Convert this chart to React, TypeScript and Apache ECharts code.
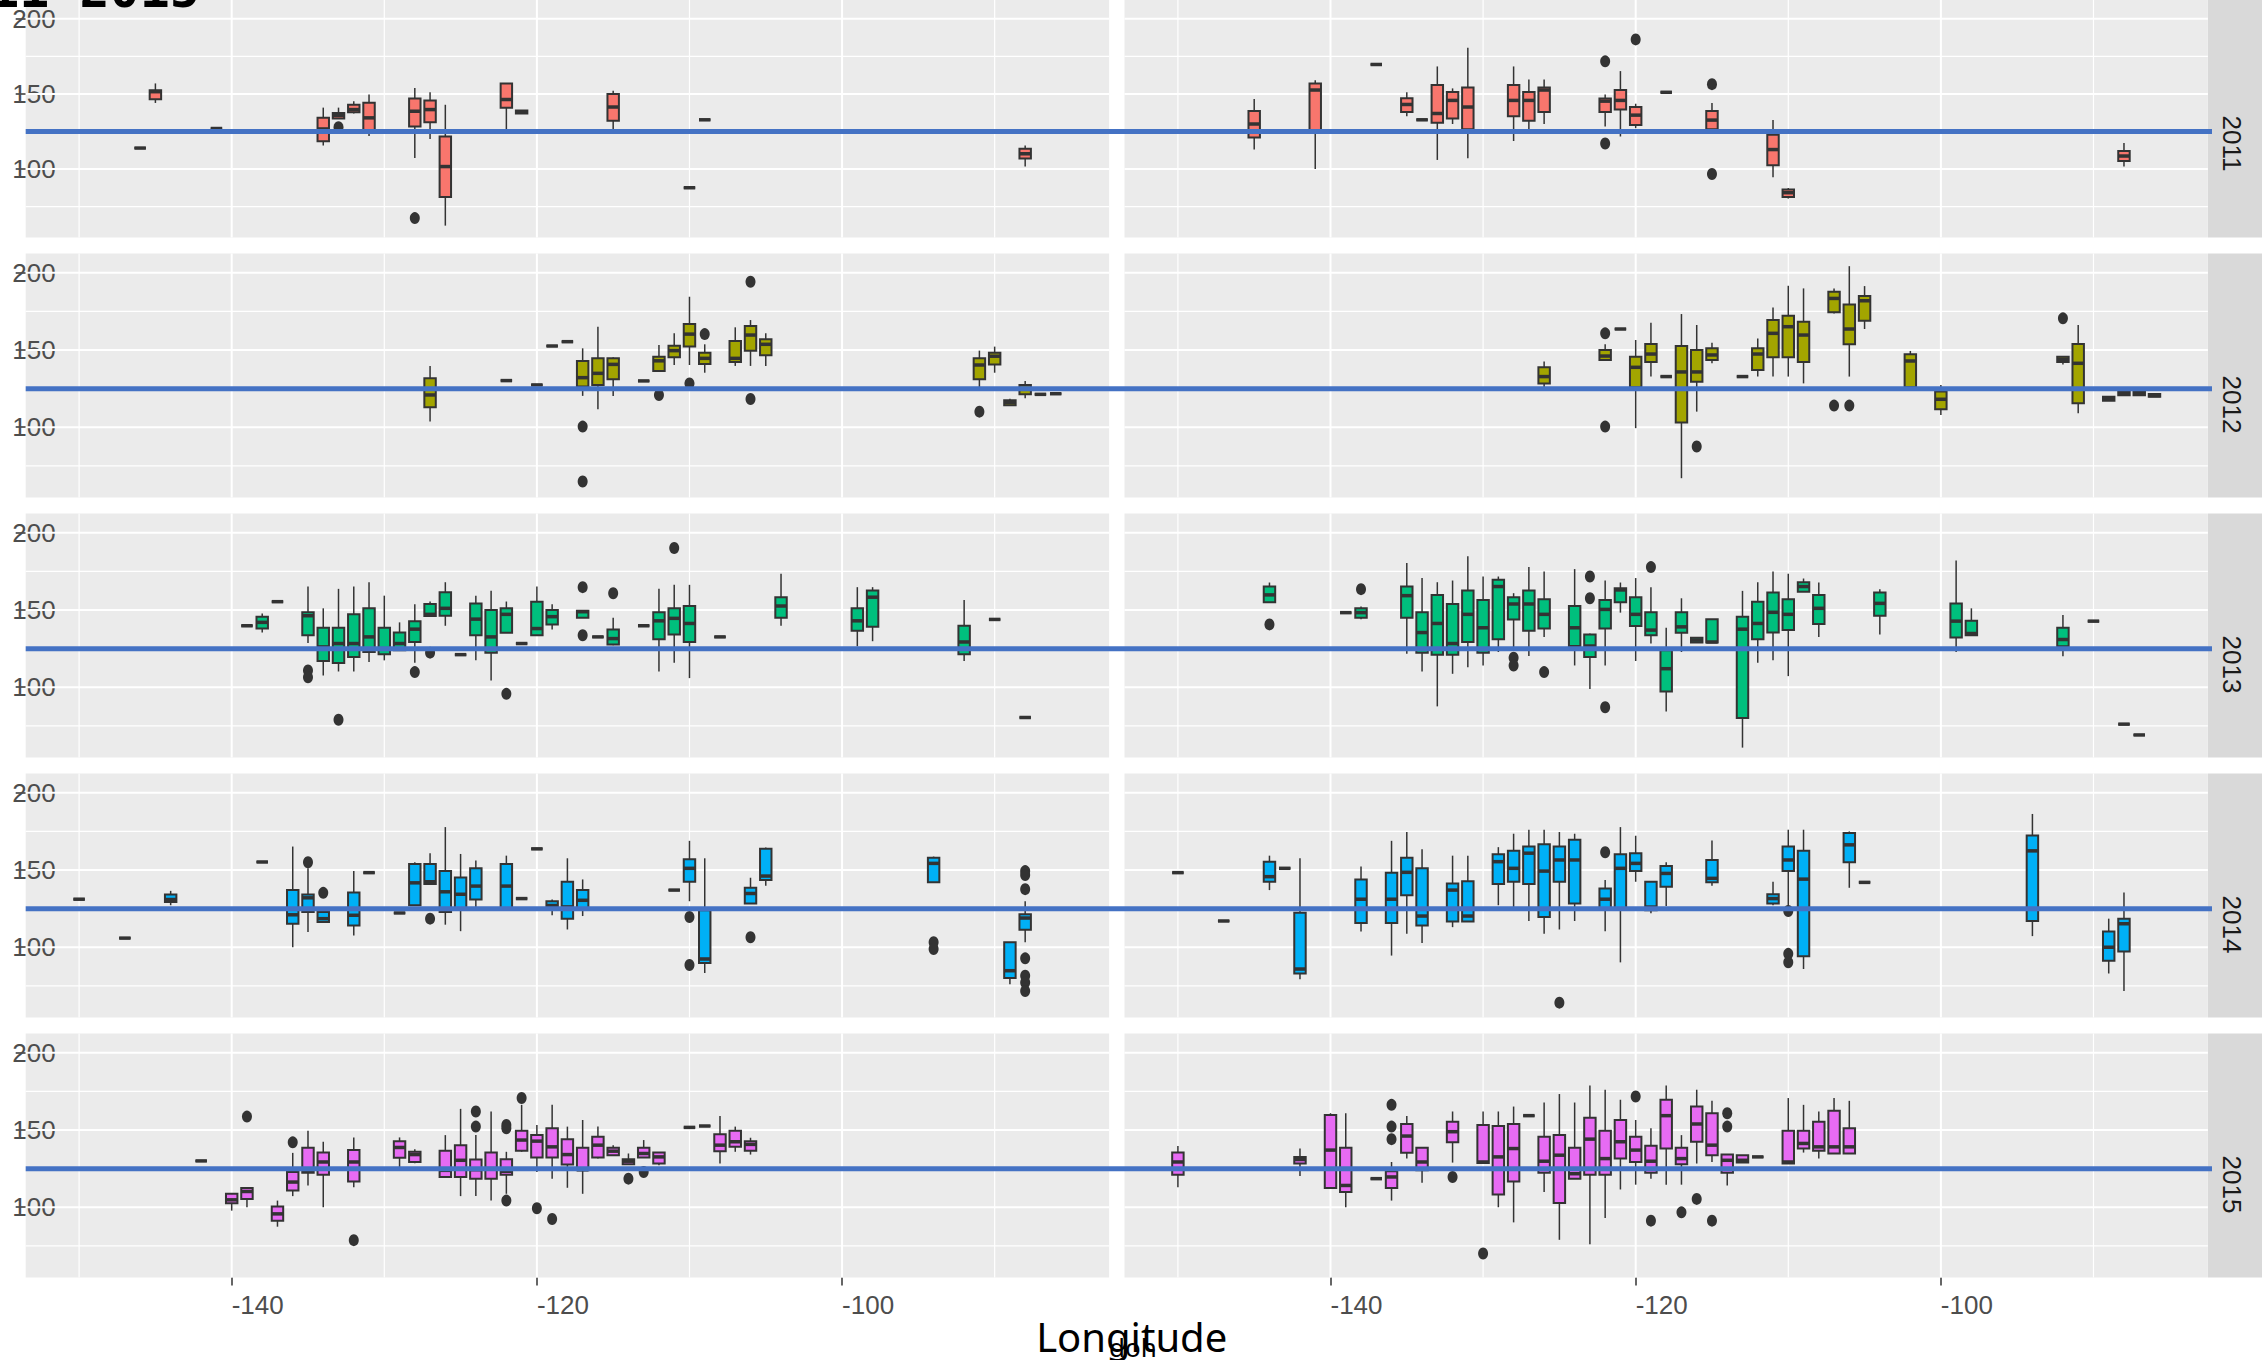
import React, { useEffect, useRef } from "react";
import * as echarts from "echarts";

// ---------- scales, ticks, labels ----------
const YEARS = ["2011", "2012", "2013", "2014", "2015"];
const FILLS = ["#F8766D", "#A3A500", "#00BF7D", "#00B0F6", "#E76BF3"];
const X_MIN = -153.5;
const X_MAX = -82.5;
const Y_MIN = 54.5;
const Y_MAX = 212.5;
const X_TICKS = [-140, -120, -100];
const X_MINOR = [-150, -130, -110, -90];
const Y_TICKS = [100, 150, 200];
const Y_MINOR = [75, 125, 175];
const REF_VALUE = 125;
const TITLE = "2011-2015";
const X_TITLE = "Longitude";
const X_SUBTITLE = "doh";

// ---------- box data: [lon, lowerWhisker, q1, median, q3, upperWhisker] ----------
const BOX_2011_L = [
  [-146, 114, 114, 114, 114, 114],
  [-145, 144, 146.5, 151.5, 152.5, 157],
  [-141, 127, 127, 127, 127, 127],
  [-134, 115.7, 118.5, 126.7, 134.1, 140.9],
  [-133, 133.7, 133.7, 135.7, 137.4, 140.9],
  [-132, 137, 137.8, 139.6, 142.8, 145.2],
  [-131, 122, 124, 134.1, 144.1, 149.6],
  [-128, 107.4, 128.3, 138.5, 147, 153.9],
  [-127, 120, 131.1, 139.6, 145.7, 151.1],
  [-126, 62.4, 81.5, 101.7, 121.7, 142.8],
  [-122, 125.4, 140.9, 146.3, 157, 157],
  [-121, 137, 137, 138, 139, 139],
  [-115, 126, 132.2, 141.3, 150, 152.2],
  [-110, 87.6, 87.6, 87.6, 87.6, 87.6],
  [-109, 132.8, 132.8, 132.8, 132.8, 132.8],
  [-88, 101.7, 107, 110.2, 113.5, 115.7],
];
const OUT_2011_L = [[-133, 127.8], [-128, 67.4]];

const BOX_2011_R = [
  [-145, 113, 121.1, 130, 138.7, 146.7],
  [-141, 100, 126, 152.6, 157, 159.1],
  [-137, 169.6, 169.6, 169.6, 169.6, 169.6],
  [-135, 135.2, 138, 143, 147.2, 151.1],
  [-134, 132.8, 132.8, 132.8, 132.8, 132.8],
  [-133, 106.1, 130.9, 137, 155.9, 168.3],
  [-132, 130, 133.7, 145.7, 151.3, 153.7],
  [-131, 107.2, 126.5, 141.3, 154.3, 180.7],
  [-128, 118.7, 135.2, 145.7, 155.9, 168.3],
  [-127, 125.7, 132.2, 145.7, 151.3, 159.6],
  [-126, 130, 138, 152.6, 154.3, 159.6],
  [-122, 128.3, 138, 145.2, 147, 149.6],
  [-121, 121.7, 139.6, 145.7, 152.6, 165.2],
  [-120, 127.2, 129.3, 135.9, 141.3, 143.5],
  [-118, 151.1, 151.1, 151.1, 151.1, 151.1],
  [-115, 125.7, 126.5, 132.6, 138.7, 143.9],
  [-111, 94.6, 102.6, 113, 122.8, 132.6],
  [-110, 80.4, 81.5, 84.3, 86.5, 87.4],
  [-88, 101.7, 105.4, 108.7, 112, 117.4],
];
const OUT_2011_R = [[-122, 171.7], [-122, 117], [-120, 186.3], [-115, 156.5], [-115, 96.7]];

const BOX_2012_L = [
  [-127, 103.7, 112.9, 120.9, 131.7, 139.7],
  [-122, 130.2, 130.2, 130.2, 130.2, 130.2],
  [-120, 127.4, 127.4, 127.4, 127.4, 127.4],
  [-119, 152.6, 152.6, 152.6, 152.6, 152.6],
  [-118, 155.4, 155.4, 155.4, 155.4, 155.4],
  [-117, 120.3, 126.3, 132.1, 142.9, 151.1],
  [-116, 111.6, 127.4, 134.9, 144.6, 165.1],
  [-115, 120.3, 131, 140.7, 144.6, 145.3],
  [-113, 130, 130, 130, 130, 130],
  [-112, 136, 136.4, 143, 145.7, 153.2],
  [-111, 140.3, 145.3, 149.6, 152.8, 160.8],
  [-110, 140.3, 152.2, 160.3, 166.8, 184.5],
  [-109, 135.3, 141, 144.6, 148.3, 153.7],
  [-107, 139.7, 142.2, 144.6, 155.8, 164.7],
  [-106, 139.7, 149.6, 159.7, 165.5, 169.4],
  [-105, 139.7, 146.6, 153.7, 156.9, 160.8],
  [-91, 125.2, 131, 140.3, 144.6, 149.6],
  [-90, 135.3, 140.7, 146, 148.3, 152.2],
  [-89, 113.8, 114.2, 116, 117.5, 118.4],
  [-88, 118.7, 121.3, 125.2, 127.4, 130],
  [-87, 121.3, 121.3, 121.3, 121.3, 121.3],
  [-86, 121.7, 121.7, 121.7, 121.7, 121.7],
];
const OUT_2012_L = [
  [-117, 100.4], [-117, 64.9], [-112, 120.9], [-110, 128.4],
  [-109, 160.3], [-106, 194.2], [-106, 118.3], [-91, 110.1],
];

const BOX_2012_R = [
  [-126, 125.2, 128.4, 132.8, 138.8, 142.5],
  [-122, 143.5, 143.5, 146.1, 150, 153.7],
  [-121, 163.6, 163.6, 163.6, 163.6, 163.6],
  [-120, 99.4, 125.9, 138.8, 145.7, 156.5],
  [-119, 132.8, 142.2, 147.4, 153.9, 167.7],
  [-118, 132.8, 132.8, 132.8, 132.8, 132.8],
  [-117, 67, 103, 135.8, 152.6, 173.3],
  [-116, 110.1, 129.5, 135.8, 150, 166.2],
  [-115, 141.4, 143.5, 146.8, 151.1, 154.7],
  [-113, 132.8, 132.8, 132.8, 132.8, 132.8],
  [-112, 132.8, 137.1, 147.4, 151.1, 157.5],
  [-111, 132.8, 145.3, 160.8, 169.4, 177.6],
  [-110, 132.8, 145.3, 165.1, 172.2, 191.6],
  [-109, 128.4, 142.2, 159.7, 168.3, 189.9],
  [-107, 173.7, 174.4, 183.4, 187.7, 189.9],
  [-106, 132.8, 153.7, 163.6, 179.5, 204.3],
  [-105, 163.6, 169, 181.9, 184.9, 191.4],
  [-102, 125.2, 125.9, 142.9, 147.2, 149.4],
  [-100, 108, 111.6, 118.1, 123.1, 127.4],
  [-92, 140.7, 142.2, 144, 145.7, 146.1],
  [-91, 109, 115.5, 141.4, 153.9, 166.2],
  [-89, 117.2, 117.2, 118.5, 119.8, 119.8],
  [-88, 120.7, 120.7, 122, 123.1, 123.1],
  [-87, 120.7, 120.7, 122, 123.1, 123.1],
  [-86, 119.8, 119.8, 120.5, 121.5, 121.5],
];
const OUT_2012_R = [[-122, 160.8], [-122, 100.4], [-116, 87.5], [-107, 114], [-106, 114], [-92, 170.5]];

const BOX_2013_L = [
  [-139, 139.8, 139.8, 139.8, 139.8, 139.8],
  [-138, 135.4, 138, 142, 145.7, 147.8],
  [-137, 155.4, 155.4, 155.4, 155.4, 155.4],
  [-135, 128.7, 133.7, 146.3, 148.5, 165.2],
  [-134, 107.6, 117, 126.1, 138.5, 151.1],
  [-133, 110.2, 115.7, 128.3, 138.5, 163.7],
  [-132, 110.2, 119.6, 128.3, 147.2, 165.2],
  [-131, 116.3, 122.8, 132.6, 151.1, 168],
  [-130, 117.4, 121.3, 125, 138.5, 159.3],
  [-129, 123.9, 123.9, 128.3, 135.4, 142],
  [-128, 115.9, 129.3, 137.6, 142.8, 153.7],
  [-127, 145.7, 146.1, 147.2, 153.9, 155.5],
  [-126, 139.8, 146.3, 151.1, 161.5, 168],
  [-125, 121.1, 121.1, 121.1, 121.1, 121.1],
  [-124, 117.4, 133.7, 144.1, 154.3, 159.3],
  [-123, 104.3, 122.4, 132.6, 150, 162.4],
  [-122, 135.2, 135.2, 147.2, 151.1, 155.5],
  [-121, 128.3, 128.3, 128.3, 128.3, 128.3],
  [-120, 133.7, 133.7, 138, 155.4, 165.2],
  [-119, 137.4, 140.7, 145.7, 150, 153.7],
  [-117, 145, 145, 148.9, 149.6, 149.6],
  [-116, 132.6, 132.6, 132.6, 132.6, 132.6],
  [-115, 127.2, 127.6, 131.5, 137.4, 145],
  [-113, 139.8, 139.8, 139.8, 139.8, 139.8],
  [-112, 110.2, 131.1, 143, 148.5, 163.7],
  [-111, 115.9, 134.1, 144.6, 151.1, 166.3],
  [-110, 105.9, 129.3, 141.3, 152.6, 166.3],
  [-108, 132.6, 132.6, 132.6, 132.6, 132.6],
  [-104, 139.8, 145, 152.6, 158.3, 173.5],
  [-99, 126.5, 136.5, 143, 151.1, 164.8],
  [-98, 129.8, 139.1, 158.3, 162.6, 164.8],
  [-92, 117, 121.3, 129.3, 139.8, 156.5],
  [-90, 143.9, 143.9, 143.9, 143.9, 143.9],
  [-88, 80.4, 80.4, 80.4, 80.4, 80.4],
];
const OUT_2013_L = [
  [-135, 110.9], [-135, 106.5], [-133, 78.9], [-128, 109.8], [-127, 122.4],
  [-122, 95.7], [-117, 164.8], [-117, 133.7], [-115, 160.9], [-111, 190.2],
];

const BOX_2013_R = [
  [-144, 155, 155, 159.8, 165.2, 167.8],
  [-139, 148.3, 148.3, 148.3, 148.3, 148.3],
  [-138, 144, 145, 148.3, 151.1, 152.2],
  [-135, 121.7, 145, 159.3, 165.2, 180.4],
  [-134, 110.2, 122.4, 135.4, 148.5, 170.7],
  [-133, 87.6, 121.1, 141.3, 159.8, 168],
  [-132, 108.7, 121.1, 128.3, 153.9, 169.1],
  [-131, 113, 129.3, 147.2, 162.6, 184.8],
  [-130, 114.1, 122.4, 138.5, 156.5, 171.7],
  [-129, 122.8, 131.1, 165.2, 169.6, 171.7],
  [-128, 125, 143.9, 153.9, 158.3, 160.9],
  [-127, 120.2, 136.5, 153.9, 162.6, 177.8],
  [-126, 132.6, 138, 147.2, 157, 175],
  [-124, 114.1, 126.7, 138.5, 152.6, 176.5],
  [-123, 98.9, 119.6, 126.7, 134.1, 134.8],
  [-122, 114.1, 138, 150.4, 156.5, 169.1],
  [-121, 148.3, 155, 163, 164.1, 167.8],
  [-120, 117, 139.6, 147.2, 158.3, 170.7],
  [-119, 128.3, 133.7, 137, 148.5, 164.8],
  [-118, 84.3, 97.2, 112, 123.9, 138.5],
  [-117, 122.8, 135.2, 139.1, 148.5, 157.6],
  [-116, 129, 129, 130.5, 132, 132],
  [-115, 128.9, 128.9, 129.3, 144.1, 144.1],
  [-113, 60.9, 80, 137.6, 145.7, 162.4],
  [-112, 115.9, 131.1, 141.3, 155.4, 168],
  [-111, 117.4, 135.4, 148.5, 161.3, 175],
  [-110, 107.2, 137, 147.2, 157, 173.5],
  [-109, 161.9, 161.9, 165.2, 168, 170.4],
  [-108, 132.6, 140.9, 151.1, 159.8, 167.8],
  [-104, 134.1, 146.3, 154.3, 161.3, 163.5],
  [-99, 122.8, 132.2, 142.8, 154.3, 182],
  [-98, 133.7, 133.7, 134.8, 143, 151.1],
  [-92, 120, 126.5, 130.9, 138.5, 146.7],
  [-90, 142.8, 142.8, 142.8, 142.8, 142.8],
  [-88, 76.1, 76.1, 76.1, 76.1, 76.1],
  [-87, 69.1, 69.1, 69.1, 69.1, 69.1],
];
const OUT_2013_R = [
  [-144, 140.7], [-138, 163.5], [-128, 119.1], [-128, 114.1], [-126, 109.8],
  [-123, 171.7], [-123, 157.6], [-122, 87], [-119, 177.8],
];

const BOX_2014_L = [
  [-150, 131.1, 131.1, 131.1, 131.1, 131.1],
  [-147, 105.9, 105.9, 105.9, 105.9, 105.9],
  [-144, 127.2, 129.3, 130.9, 134.1, 136.5],
  [-138, 155.2, 155.2, 155.2, 155.2, 155.2],
  [-136, 100, 115.2, 121, 137, 165.2],
  [-135, 109.8, 122.8, 132, 134.1, 151.1],
  [-134, 116.3, 116.3, 118.5, 122.8, 125],
  [-132, 107.6, 114.1, 120.7, 135.4, 149.3],
  [-131, 148.3, 148.3, 148.3, 148.3, 148.3],
  [-129, 122.2, 122.2, 122.2, 122.2, 122.2],
  [-128, 127.2, 127.2, 141.7, 153.9, 155],
  [-127, 140.9, 140.9, 142.4, 153.9, 160.9],
  [-126, 114.6, 122.8, 135.9, 149.3, 177.8],
  [-125, 110.4, 125, 134.3, 145.2, 160.4],
  [-124, 124.6, 130.9, 139.6, 151.1, 156.1],
  [-122, 125, 125, 139.6, 153.9, 159.3],
  [-121, 131.5, 131.5, 131.5, 131.5, 131.5],
  [-120, 163.7, 163.7, 163.7, 163.7, 163.7],
  [-119, 120.7, 126.1, 127, 129.8, 130.9],
  [-118, 111.5, 118.5, 126.1, 142.4, 157.6],
  [-117, 120.2, 125, 130.4, 137, 143.9],
  [-111, 137, 137, 137, 137, 137],
  [-110, 129.8, 142.4, 151.1, 157, 168.9],
  [-109, 83.3, 89.8, 92.4, 124, 157.6],
  [-106, 128.3, 128.3, 134.8, 138.5, 145],
  [-105, 139.8, 143.5, 146.1, 163.7, 164.6],
  [-94, 142, 142, 154.3, 158, 158.7],
  [-89, 76.1, 80, 84.8, 103.3, 103.3],
  [-88, 103.3, 111.3, 118.9, 121.3, 129.8],
];
const OUT_2014_L = [
  [-135, 155], [-134, 135.2], [-127, 118.5], [-110, 119.6], [-110, 88.5],
  [-106, 106.5], [-94, 103.3], [-94, 98.9], [-88, 149.3], [-88, 146.7],
  [-88, 137.6], [-88, 92.8], [-88, 81.5], [-88, 77.2], [-88, 71.7],
];

const BOX_2014_R = [
  [-150, 148.3, 148.3, 148.3, 148.3, 148.3],
  [-147, 117, 117, 117, 117, 117],
  [-144, 137, 142.4, 145.7, 155.4, 159.3],
  [-143, 151.1, 151.1, 151.1, 151.1, 151.1],
  [-142, 79.3, 83, 85.9, 122.4, 157.6],
  [-138, 110.2, 115.7, 131.1, 143.9, 152.2],
  [-136, 94.6, 115.7, 131.1, 148.3, 168.9],
  [-135, 108.7, 133.7, 148.5, 158, 174.6],
  [-134, 102.8, 114.1, 120.2, 151.1, 163.5],
  [-132, 113, 116.7, 137, 141.3, 159.3],
  [-131, 116.3, 116.7, 120.2, 142.8, 159.3],
  [-129, 127.2, 140.9, 155.4, 160.2, 164.8],
  [-128, 126.1, 142.4, 151.1, 162.4, 173.5],
  [-127, 117, 140.9, 160.9, 165.2, 176.1],
  [-126, 108.7, 119.6, 149.3, 166.7, 176.1],
  [-125, 111.5, 142.4, 156.5, 165.2, 174.6],
  [-124, 117, 128.3, 156.5, 169.6, 173.5],
  [-122, 110.4, 125, 131.1, 138, 143.5],
  [-121, 90.2, 125, 151.1, 160.2, 177.8],
  [-120, 142.4, 149.3, 154.3, 160.9, 172.2],
  [-119, 122, 124, 126, 142.4, 142.4],
  [-118, 126.7, 139.1, 147.8, 152.6, 155],
  [-115, 139.8, 142, 144.6, 156.5, 169.1],
  [-111, 127.2, 128.3, 131.5, 134.3, 142.4],
  [-110, 123.9, 149.3, 156.5, 165.2, 176.1],
  [-109, 85.9, 94.1, 144.1, 162.4, 176.1],
  [-106, 138.5, 155, 166.3, 173.9, 175],
  [-105, 142, 142, 142, 142, 142],
  [-94, 107.2, 117, 162.4, 172.4, 186.3],
  [-89, 83, 91.3, 100, 110.2, 118.5],
  [-88, 71.7, 97.2, 115.2, 118.5, 135.4],
];
const OUT_2014_R = [[-125, 64.1], [-122, 161.5], [-110, 123.5], [-110, 95.7], [-110, 90.2]];

const BOX_2015_L = [
  [-142, 130, 130, 130, 130, 130],
  [-140, 97.8, 102.6, 104.8, 108.7, 108.7],
  [-139, 100, 105.4, 110.2, 112.4, 112.4],
  [-137, 87.4, 91.3, 95.7, 100.4, 104.3],
  [-136, 107.2, 110.9, 116.3, 122.8, 135.2],
  [-135, 114.1, 122.4, 123.3, 138.5, 149.6],
  [-134, 100, 121.1, 129.3, 135.4, 142.4],
  [-132, 113, 116.7, 129.3, 137, 145.2],
  [-129, 124.6, 132, 138.7, 142.8, 145.2],
  [-128, 128.5, 129.3, 134.1, 135.9, 137.6],
  [-126, 119.6, 119.6, 123.9, 136.5, 146.7],
  [-125, 107.2, 119.6, 130.4, 140.2, 163.7],
  [-124, 107.2, 118.5, 124.3, 130.9, 146.7],
  [-123, 104.3, 118.5, 125, 135.4, 162],
  [-122, 108.7, 121.1, 123.3, 131.1, 135.9],
  [-121, 135.9, 136.5, 143.5, 149.6, 166.3],
  [-120, 122.8, 132.2, 142.8, 146.7, 153.3],
  [-119, 118.5, 132.2, 139.1, 151.1, 166.3],
  [-118, 112.6, 127.6, 134.1, 144.1, 152.2],
  [-117, 108.7, 123.9, 124.3, 138.5, 156.5],
  [-116, 131.5, 132.2, 140.2, 145.7, 152.2],
  [-115, 133.7, 133.7, 136.3, 138.5, 140.2],
  [-114, 127.8, 127.8, 129.8, 131.1, 134.8],
  [-113, 132.2, 132.2, 134.8, 138.5, 143.5],
  [-112, 127.2, 128.3, 132.6, 135.4, 135.4],
  [-110, 151.7, 151.7, 151.7, 151.7, 151.7],
  [-109, 152.6, 152.6, 152.6, 152.6, 152.6],
  [-108, 128.3, 136.3, 140.2, 147.2, 159.1],
  [-107, 135.9, 139.1, 142.4, 149.6, 152.2],
  [-106, 134.1, 136.5, 140.7, 142.8, 145],
];
const OUT_2015_L = [
  [-139, 158.7], [-136, 142], [-132, 78.7], [-124, 162], [-124, 152.2],
  [-122, 153.3], [-122, 151.1], [-122, 104.3], [-121, 170.7], [-120, 99.3],
  [-119, 92.4], [-114, 118.5], [-113, 122.8],
];

const BOX_2015_R = [
  [-150, 113, 121.1, 129.3, 135.4, 139.6],
  [-142, 120.2, 128.3, 130.9, 132.6, 138],
  [-140, 112.4, 112.4, 137, 159.8, 160.9],
  [-139, 100, 109.8, 114.1, 138.5, 160.9],
  [-137, 118.5, 118.5, 118.5, 118.5, 118.5],
  [-136, 104.3, 112.4, 119.6, 123.3, 129.3],
  [-135, 131.5, 135.2, 146.1, 153.9, 159.1],
  [-134, 115.9, 123.9, 129.3, 138.5, 138.5],
  [-132, 128.9, 142, 148.9, 155.4, 162],
  [-130, 128.7, 128.7, 129.3, 153.3, 162],
  [-129, 100, 108.3, 132.6, 152.6, 162],
  [-128, 90.2, 116.7, 138, 153.9, 165.2],
  [-127, 159.3, 159.3, 159.3, 159.3, 159.3],
  [-126, 109.8, 122.4, 129.8, 145.7, 167.8],
  [-125, 78.9, 102.8, 133.7, 146.7, 173.3],
  [-124, 118.5, 118.5, 121.7, 138.5, 167.8],
  [-123, 76.1, 121.1, 144.1, 158, 178.9],
  [-122, 93, 121.1, 131.5, 149.6, 176.1],
  [-121, 111.5, 131.5, 142.4, 156.5, 169.6],
  [-120, 114.6, 129.3, 137, 145.7, 156.5],
  [-119, 118.5, 122.4, 129.8, 139.8, 151.1],
  [-118, 114.6, 138, 159.3, 169.6, 178.9],
  [-117, 114.6, 127.8, 131.5, 138.5, 146.7],
  [-116, 128.3, 142.4, 153.9, 165.2, 176.1],
  [-115, 129.3, 133.7, 140.2, 160.9, 168.9],
  [-114, 114.1, 122.4, 130.4, 134.1, 134.1],
  [-113, 128.9, 128.9, 130.4, 133.7, 133.7],
  [-112, 132.6, 132.6, 132.6, 132.6, 132.6],
  [-110, 128.3, 128.3, 129.3, 149.6, 170.7],
  [-109, 135.4, 138, 141.3, 149.6, 166.3],
  [-108, 131.5, 136.5, 139.1, 155.4, 162],
  [-107, 134.8, 134.8, 139.1, 162.4, 170.7],
  [-106, 134.8, 134.8, 139.1, 151.1, 168.9],
];
const OUT_2015_R = [
  [-136, 166.3], [-136, 152.2], [-136, 144.1], [-132, 119.6], [-130, 70],
  [-120, 171.7], [-119, 91.3], [-117, 96.7], [-116, 105.4], [-114, 160.9],
  [-114, 152.2], [-115, 91.3],
];

const PANEL_BOXES = [
  [BOX_2011_L, BOX_2011_R],
  [BOX_2012_L, BOX_2012_R],
  [BOX_2013_L, BOX_2013_R],
  [BOX_2014_L, BOX_2014_R],
  [BOX_2015_L, BOX_2015_R],
];
const PANEL_OUTLIERS = [
  [OUT_2011_L, OUT_2011_R],
  [OUT_2012_L, OUT_2012_R],
  [OUT_2013_L, OUT_2013_R],
  [OUT_2014_L, OUT_2014_R],
  [OUT_2015_L, OUT_2015_R],
];

// ---------- layout & style ----------
const PAGE_W = 2262;
const PAGE_H = 1360;
const COL_X = [25.7, 1124.5];
const PANEL_W = 1083.4;
const ROW_TOP = [-6.5, 253.5, 513.5, 773.5, 1033.5];
const PANEL_H = 244;
const STRIP_X = 2208;
const REF_LINE_END = 2212;
const BOX_WIDTH = 0.75;
const OUTLINE = "#333333";
const PANEL_BG = "#EBEBEB";
const STRIP_BG = "#D9D9D9";
const REF_COLOR = "#4472C4";
const AXIS_FONT = "Liberation Sans, Arial, sans-serif";

function buildOption() {
  const grids: any[] = [];
  const xAxes: any[] = [];
  const yAxes: any[] = [];
  const series: any[] = [];
  const graphics: any[] = [];

  const gridData = [
    ...Y_TICKS.map((v) => [v, 0, 1]),
    ...Y_MINOR.map((v) => [v, 0, 0]),
    ...X_TICKS.map((v) => [v, 1, 1]),
    ...X_MINOR.map((v) => [v, 1, 0]),
  ];

  for (let r = 0; r < 5; r++) {
    for (let c = 0; c < 2; c++) {
      const gi = r * 2 + c;
      grids.push({
        left: COL_X[c],
        top: ROW_TOP[r],
        width: PANEL_W,
        height: PANEL_H,
        show: true,
        backgroundColor: PANEL_BG,
        borderWidth: 0,
        containLabel: false,
      });
      const bottom = r === 4;
      xAxes.push({
        gridIndex: gi,
        type: "value",
        min: X_MIN,
        max: X_MAX,
        axisLine: { show: false },
        splitLine: { show: false },
        axisTick: {
          show: bottom,
          customValues: X_TICKS,
          length: 8,
          lineStyle: { color: OUTLINE, width: 1.5 },
        },
        axisLabel: {
          show: bottom,
          customValues: X_TICKS,
          align: "left",
          margin: 14,
          fontSize: 26,
          color: "#4D4D4D",
          fontFamily: AXIS_FONT,
        },
      });
      const left = c === 0;
      yAxes.push({
        gridIndex: gi,
        type: "value",
        min: Y_MIN,
        max: Y_MAX,
        axisLine: { show: false },
        splitLine: { show: false },
        axisTick: {
          show: left,
          customValues: Y_TICKS,
          length: 10,
          lineStyle: { color: OUTLINE, width: 1.5 },
        },
        axisLabel: {
          show: left,
          customValues: Y_TICKS,
          margin: -30,
          padding: [8, 0, 0, 0],
          fontSize: 26,
          color: "#4D4D4D",
          fontFamily: AXIS_FONT,
        },
      });

      // grid lines
      series.push({
        type: "custom",
        xAxisIndex: gi,
        yAxisIndex: gi,
        silent: true,
        z: 1,
        data: gridData,
        renderItem: (params: any, api: any) => {
          const cs = params.coordSys;
          const v = api.value(0);
          const dir = api.value(1);
          const lw = api.value(2) ? 2 : 1.2;
          if (dir === 0) {
            const y = api.coord([X_MIN, v])[1];
            return {
              type: "line",
              shape: { x1: cs.x, y1: y, x2: cs.x + cs.width, y2: y },
              style: { stroke: "#FFFFFF", lineWidth: lw },
            };
          }
          const x = api.coord([v, Y_MIN])[0];
          return {
            type: "line",
            shape: { x1: x, y1: cs.y, x2: x, y2: cs.y + cs.height },
            style: { stroke: "#FFFFFF", lineWidth: lw },
          };
        },
      });

      // boxes
      const fill = FILLS[r];
      series.push({
        type: "custom",
        xAxisIndex: gi,
        yAxisIndex: gi,
        z: 3,
        silent: true,
        data: PANEL_BOXES[r][c],
        encode: { x: 0, y: [1, 2, 3, 4, 5] },
        renderItem: (params: any, api: any) => {
          const lon = api.value(0);
          const pLo = api.coord([lon, api.value(1)]);
          const pQ1 = api.coord([lon, api.value(2)]);
          const pMed = api.coord([lon, api.value(3)]);
          const pQ3 = api.coord([lon, api.value(4)]);
          const pHi = api.coord([lon, api.value(5)]);
          const w = api.size([BOX_WIDTH, 0])[0];
          const cx = pMed[0];
          return {
            type: "group",
            children: [
              {
                type: "line",
                shape: { x1: cx, y1: pHi[1], x2: cx, y2: pQ3[1] },
                style: { stroke: OUTLINE, lineWidth: 1.5 },
              },
              {
                type: "line",
                shape: { x1: cx, y1: pQ1[1], x2: cx, y2: pLo[1] },
                style: { stroke: OUTLINE, lineWidth: 1.5 },
              },
              {
                type: "rect",
                shape: {
                  x: cx - w / 2,
                  y: pQ3[1],
                  width: w,
                  height: Math.max(pQ1[1] - pQ3[1], 0),
                },
                style: { fill, stroke: OUTLINE, lineWidth: 2 },
              },
              {
                type: "line",
                shape: { x1: cx - w / 2, y1: pMed[1], x2: cx + w / 2, y2: pMed[1] },
                style: { stroke: OUTLINE, lineWidth: 3.5 },
              },
            ],
          };
        },
      });

      // outliers
      series.push({
        type: "scatter",
        xAxisIndex: gi,
        yAxisIndex: gi,
        z: 4,
        silent: true,
        symbol: "circle",
        symbolSize: [10, 12],
        itemStyle: { color: OUTLINE, opacity: 1 },
        data: PANEL_OUTLIERS[r][c],
      });

      // reference line (drawn once per row across both panels)
      if (c === 0) {
        series.push({
          type: "custom",
          xAxisIndex: gi,
          yAxisIndex: gi,
          z: 6,
          silent: true,
          clip: false,
          data: [[X_MIN, REF_VALUE]],
          renderItem: (params: any, api: any) => {
            const cs = params.coordSys;
            const y = api.coord([api.value(0), api.value(1)])[1];
            return {
              type: "line",
              shape: { x1: cs.x, y1: y, x2: REF_LINE_END, y2: y },
              style: { stroke: REF_COLOR, lineWidth: 5 },
            };
          },
        });
      }
    }

    // facet strip
    graphics.push({
      type: "rect",
      silent: true,
      shape: { x: STRIP_X, y: ROW_TOP[r], width: PAGE_W - STRIP_X + 20, height: PANEL_H },
      style: { fill: STRIP_BG },
      z: 0,
    });
    graphics.push({
      type: "text",
      silent: true,
      x: 2232,
      y: ROW_TOP[r] + PANEL_H / 2,
      rotation: -Math.PI / 2,
      style: {
        text: YEARS[r],
        fontSize: 26,
        fontFamily: AXIS_FONT,
        fill: "#1A1A1A",
        align: "left",
        verticalAlign: "middle",
      },
      z: 1,
    });
  }

  graphics.push({
    type: "text",
    silent: true,
    x: -71,
    y: -10,
    style: {
      text: TITLE,
      fontSize: 50,
      fontWeight: "bold",
      fontFamily: "DejaVu Sans Mono, monospace",
      fill: "#000000",
      align: "left",
      verticalAlign: "middle",
    },
    z: 10,
  });
  graphics.push({
    type: "text",
    silent: true,
    x: 1131.7,
    y: 1336,
    style: {
      text: X_TITLE,
      fontSize: 40,
      fontFamily: "Noto Sans, Open Sans, sans-serif",
      fill: "#000000",
      align: "center",
      verticalAlign: "middle",
    },
    z: 10,
  });
  graphics.push({
    type: "text",
    silent: true,
    x: 1133,
    y: 1347,
    style: {
      text: X_SUBTITLE,
      fontSize: 26,
      fontFamily: "Noto Sans, Open Sans, sans-serif",
      fill: "#000000",
      align: "center",
      verticalAlign: "middle",
    },
    z: 11,
  });

  return {
    animation: false,
    backgroundColor: "#FFFFFF",
    grid: grids,
    xAxis: xAxes,
    yAxis: yAxes,
    series,
    graphic: { elements: graphics },
  };
}

export default function App() {
  const ref = useRef<HTMLDivElement | null>(null);
  useEffect(() => {
    if (!ref.current) return;
    const chart = echarts.init(ref.current, null, { renderer: "svg" });
    chart.setOption(buildOption() as any);
    return () => chart.dispose();
  }, []);
  return (
    <div
      ref={ref}
      style={{
        position: "absolute",
        left: 0,
        top: 0,
        width: PAGE_W,
        height: PAGE_H,
        background: "#FFFFFF",
      }}
    />
  );
}
